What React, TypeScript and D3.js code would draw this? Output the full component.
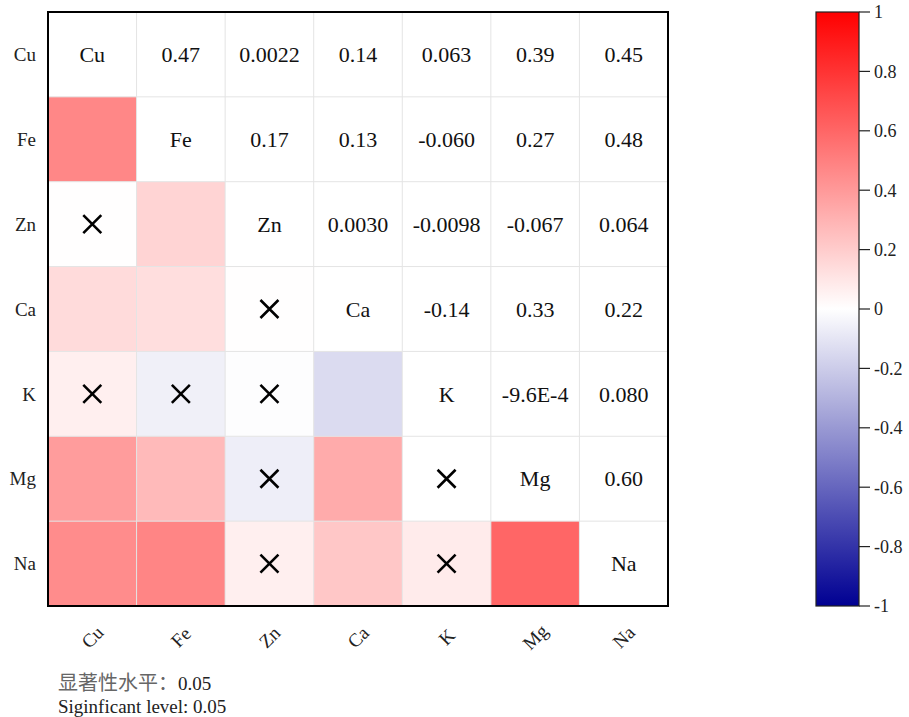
import React from "react";
import * as d3 from "d3";

const vars = ["Cu", "Fe", "Zn", "Ca", "K", "Mg", "Na"];
// correlation matrix (symmetric)
const corrValues: number[][] = [
  [1, 0.47, 0.0022, 0.14, 0.063, 0.39, 0.45],
  [0.47, 1, 0.17, 0.13, -0.06, 0.27, 0.48],
  [0.0022, 0.17, 1, 0.003, -0.0098, -0.067, 0.064],
  [0.14, 0.13, 0.003, 1, -0.14, 0.33, 0.22],
  [0.063, -0.06, -0.0098, -0.14, 1, -0.00096, 0.08],
  [0.39, 0.27, -0.067, 0.33, -0.00096, 1, 0.6],
  [0.45, 0.48, 0.064, 0.22, 0.08, 0.6, 1],
];
const corrLabels: string[][] = [
  ["", "0.47", "0.0022", "0.14", "0.063", "0.39", "0.45"],
  ["", "", "0.17", "0.13", "-0.060", "0.27", "0.48"],
  ["", "", "", "0.0030", "-0.0098", "-0.067", "0.064"],
  ["", "", "", "", "-0.14", "0.33", "0.22"],
  ["", "", "", "", "", "-9.6E-4", "0.080"],
  ["", "", "", "", "", "", "0.60"],
  ["", "", "", "", "", "", ""],
];
// 1 = significant, 0 = not significant (shown with ×)
const significant: number[][] = [
  [1, 1, 0, 1, 0, 1, 1],
  [1, 1, 1, 1, 0, 1, 1],
  [0, 1, 1, 0, 0, 0, 0],
  [1, 1, 0, 1, 1, 1, 1],
  [0, 0, 0, 1, 1, 0, 0],
  [1, 1, 0, 1, 0, 1, 1],
  [1, 1, 0, 1, 0, 1, 1],
];
const colorTicks = [1, 0.8, 0.6, 0.4, 0.2, 0, -0.2, -0.4, -0.6, -0.8, -1];
const footnotes = ["显著性水平：0.05", "Siginficant level: 0.05"];

const W = 909;
const H = 717;
const plot = { left: 48, top: 12, right: 668, bottom: 606 };
const bar = { left: 816, right: 859, top: 12, bottom: 606 };
const FONT = "'Liberation Serif', 'Times New Roman', serif";

export default function App() {
  const x = d3.scaleBand<string>().domain(vars).range([plot.left, plot.right]);
  const y = d3.scaleBand<string>().domain(vars).range([plot.top, plot.bottom]);
  const color = d3
    .scaleLinear<string>()
    .domain([-1, 0, 1])
    .range(["#000092", "#ffffff", "#ff0000"])
    .interpolate(d3.interpolateRgb);
  const barY = d3.scaleLinear().domain([1, -1]).range([bar.top, bar.bottom]);
  const stops = d3.range(0, 21).map((k) => 1 - k * 0.1);

  const cells: React.ReactNode[] = [];
  vars.forEach((rv, i) => {
    vars.forEach((cv, j) => {
      const cx = x(cv)!;
      const cy = y(rv)!;
      const bw = x.bandwidth();
      const bh = y.bandwidth();
      const mx = cx + bw / 2;
      const my = cy + bh / 2;
      const key = `${i}-${j}`;
      if (i > j) {
        cells.push(
          <rect key={"r" + key} x={cx} y={cy} width={bw} height={bh} fill={color(corrValues[i][j])} />
        );
        if (!significant[i][j]) {
          const s = 9;
          cells.push(
            <path
              key={"x" + key}
              d={`M${mx - s},${my - s}L${mx + s},${my + s}M${mx + s},${my - s}L${mx - s},${my + s}`}
              stroke="#000"
              strokeWidth={2.6}
            />
          );
        }
      } else {
        cells.push(<rect key={"r" + key} x={cx} y={cy} width={bw} height={bh} fill="#fff" />);
        cells.push(
          <text
            key={"t" + key}
            x={mx}
            y={my}
            dy="0.35em"
            textAnchor="middle"
            fontSize={22}
            fontFamily={FONT}
            fill="#111"
          >
            {i === j ? rv : corrLabels[i][j]}
          </text>
        );
      }
    });
  });

  const grid: React.ReactNode[] = [];
  for (let k = 1; k < vars.length; k++) {
    const gx = plot.left + k * x.bandwidth();
    const gy = plot.top + k * y.bandwidth();
    grid.push(<line key={"gx" + k} x1={gx} x2={gx} y1={plot.top} y2={plot.bottom} stroke="#e4e4e4" strokeWidth={1} />);
    grid.push(<line key={"gy" + k} y1={gy} y2={gy} x1={plot.left} x2={plot.right} stroke="#e4e4e4" strokeWidth={1} />);
  }

  return (
    <svg width={W} height={H} style={{ position: "absolute", left: 0, top: 0, background: "#fff" }}>
      <defs>
        <linearGradient id="cbar" x1="0" y1="0" x2="0" y2="1">
          {stops.map((v, k) => (
            <stop key={k} offset={`${(k / (stops.length - 1)) * 100}%`} stopColor={color(v)} />
          ))}
        </linearGradient>
      </defs>
      <rect x={0} y={0} width={W} height={H} fill="#fff" />
      {cells}
      {grid}
      <rect
        x={plot.left}
        y={plot.top}
        width={plot.right - plot.left}
        height={plot.bottom - plot.top}
        fill="none"
        stroke="#000"
        strokeWidth={2}
      />
      {vars.map((v) => (
        <text
          key={"yl" + v}
          x={36}
          y={y(v)! + y.bandwidth() / 2}
          dy="0.35em"
          textAnchor="end"
          fontSize={19}
          fontFamily={FONT}
          fill="#222"
        >
          {v}
        </text>
      ))}
      {vars.map((v) => {
        const lx = x(v)! + x.bandwidth() / 2;
        const ly = 637;
        return (
          <text
            key={"xl" + v}
            x={lx}
            y={ly}
            dy="0.35em"
            textAnchor="middle"
            fontSize={19}
            fontFamily={FONT}
            fill="#222"
            transform={`rotate(-45 ${lx} ${ly})`}
          >
            {v}
          </text>
        );
      })}
      <rect
        x={bar.left}
        y={bar.top}
        width={bar.right - bar.left}
        height={bar.bottom - bar.top}
        fill="url(#cbar)"
        stroke="#222"
        strokeWidth={1.2}
      />
      {colorTicks.map((t) => (
        <g key={"ct" + t}>
          <line x1={bar.right} x2={bar.right + 11} y1={barY(t)} y2={barY(t)} stroke="#222" strokeWidth={1.2} />
          <text
            x={bar.right + 15}
            y={barY(t)}
            dy="0.35em"
            fontSize={18}
            fontFamily={FONT}
            fill="#222"
          >
            {t === 0 ? "0" : String(t)}
          </text>
        </g>
      ))}
      <text x={58} y={690} fontSize={19} fontFamily={FONT} fill="#222">
        <tspan fontFamily="'Noto Sans CJK SC', sans-serif" fill="#666" fontSize={20}>{footnotes[0].slice(0, 6)}</tspan>
        <tspan>{footnotes[0].slice(6)}</tspan>
      </text>
      <text x={58} y={713} fontSize={19} fontFamily={FONT} fill="#222">
        {footnotes[1]}
      </text>
    </svg>
  );
}
